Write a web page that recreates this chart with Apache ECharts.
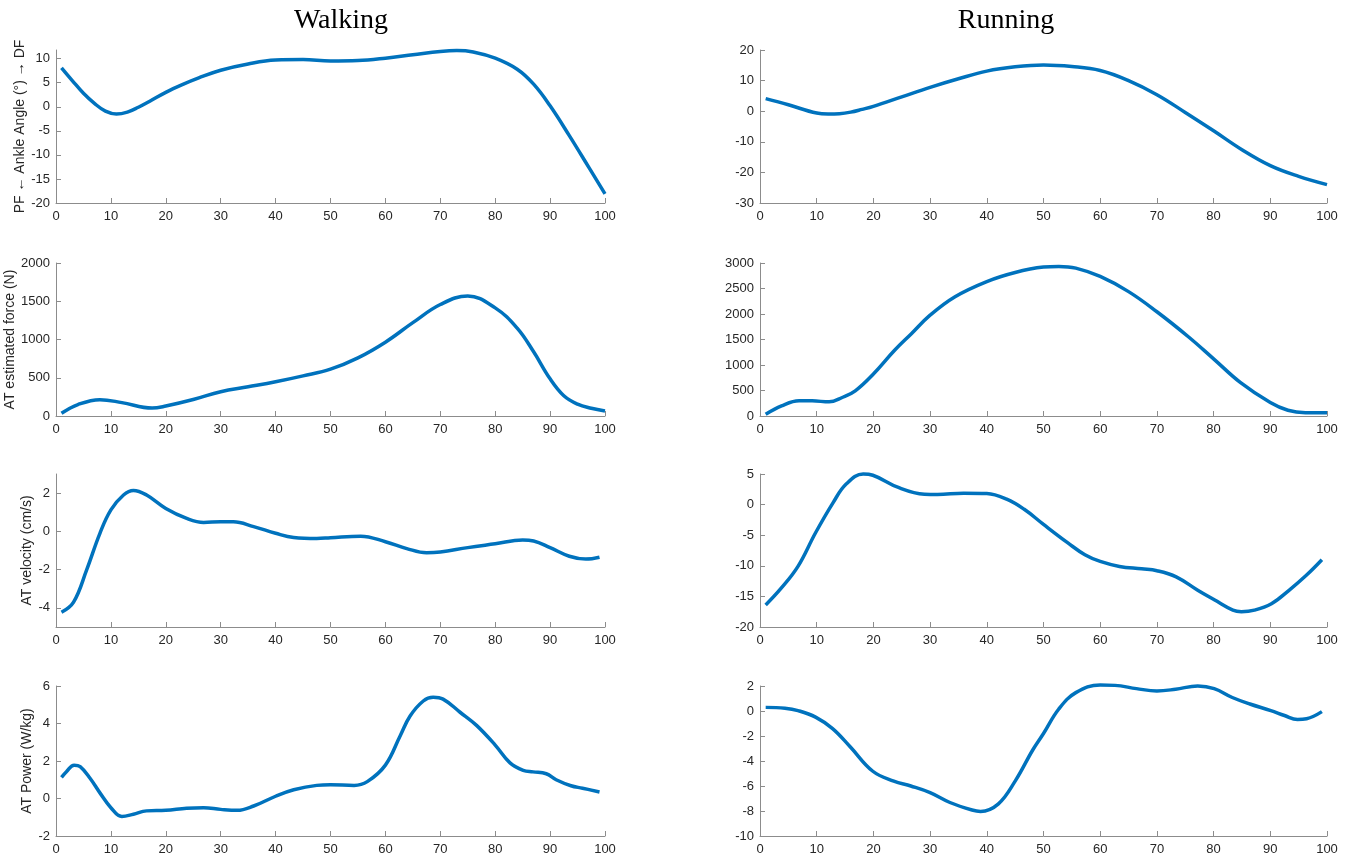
<!DOCTYPE html>
<html>
<head>
<meta charset="utf-8">
<title>Walking vs Running</title>
<script src="https://cdn.jsdelivr.net/npm/echarts@6/dist/echarts.min.js"></script>
<style>
  html, body { margin: 0; padding: 0; background: #fff; }
  #chart { width: 1348px; height: 856px; }
</style>
</head>
<body>
<div id="chart"></div>
<script>
// gait cycle (%) on x
const walkAngle = [[1,8.1],[3,5.4],[5,2.8],[7,0.7],[9,-0.9],[11,-1.5],[13,-1.1],[15,-0.1],[17,1.1],[20,3.0],[23,4.6],[26,6.0],[30,7.6],[35,8.9],[40,9.7],[45,9.8],[50,9.5],[55,9.6],[60,10.1],[65,10.8],[70,11.5],[73,11.7],[76,11.4],[80,10.1],[84,7.8],[87,4.7],[90,0.2],[93.5,-6],[97,-12.5],[100,-18.1]];
const runAngle = [[1,4.1],[5,2.1],[10,-0.6],[12,-0.9],[14,-0.8],[16,-0.3],[18,0.6],[20,1.6],[25,4.7],[30,7.8],[35,10.6],[40,13.1],[45,14.5],[50,15.1],[55,14.6],[60,13.3],[65,10.0],[70,5.4],[75,-0.4],[80,-6.4],[85,-12.6],[90,-17.8],[95,-21.3],[100,-24]];

const walkForce = [[1,35],[4,150],[8,214],[12,175],[17.5,103],[20,130],[25,215],[30,318],[35,382],[40,448],[45,525],[50,612],[55,760],[60,965],[65,1220],[70,1457],[75,1570],[80,1413],[84,1148],[87,839],[90,486],[92.5,265],[95,155],[97.5,101],[100,66]];
const runForce = [[1,33],[3.8,198],[6.9,297],[9.2,297],[12.2,277],[14.5,363],[16.8,494],[20,824],[23.7,1285],[26.7,1615],[30,1978],[34.4,2340],[40,2637],[45,2815],[50,2920],[52.7,2933],[55.7,2900],[60,2736],[65,2439],[70,2044],[75.6,1549],[80,1121],[84.7,659],[90,264],[93.1,112],[96.2,66],[100,66]];

const walkVel = [[1,-4.23],[3.2,-3.7],[5.6,-2.0],[8,-0.1],[10,1.12],[12.3,1.9],[14.1,2.14],[16.5,1.9],[20,1.2],[23.8,0.68],[26.9,0.47],[30,0.5],[32.3,0.5],[36,0.25],[40,-0.1],[43.3,-0.32],[47.5,-0.37],[50,-0.33],[55.5,-0.25],[60,-0.54],[63.9,-0.9],[67.5,-1.12],[70,-1.08],[75,-0.85],[80,-0.65],[85,-0.45],[87,-0.5],[90,-0.85],[93.5,-1.3],[96.5,-1.45],[99,-1.35]];
const runVel = [[1,-16.4],[3.7,-13.7],[6.7,-10.1],[9.8,-4.6],[12.9,0.33],[15.2,3.35],[18.2,5.0],[19.9,4.8],[24.4,2.8],[29,1.7],[31.3,1.65],[35.9,1.87],[40,1.8],[43.5,0.88],[46.6,-0.77],[50,-3.24],[54.3,-6.26],[57.3,-8.19],[60,-9.29],[63.4,-10.1],[67.3,-10.5],[70,-10.8],[73.4,-11.8],[77.2,-14],[80.2,-15.6],[83.4,-17.25],[84.9,-17.5],[87.2,-17.25],[90.2,-16.2],[93.3,-14],[96.4,-11.5],[99.1,-9.0]];

const walkPow = [[1,1.13],[1.9,1.43],[3.3,1.78],[4.4,1.7],[6.2,1.08],[8,0.3],[10,-0.49],[12,-0.96],[14.1,-0.84],[16.5,-0.66],[20,-0.63],[23.8,-0.52],[26.9,-0.49],[30,-0.58],[33,-0.63],[36,-0.4],[40,0.12],[43.3,0.47],[47.5,0.7],[50,0.73],[54.3,0.7],[56.7,0.9],[60,1.78],[62.7,3.35],[64.5,4.4],[66.9,5.2],[68.7,5.4],[70.5,5.3],[73.6,4.6],[76.6,3.9],[80,2.85],[82.7,1.9],[85.1,1.5],[86.9,1.42],[89.3,1.32],[91.1,1.0],[93.8,0.68],[95.9,0.55],[99,0.35]];
const runPow = [[1,0.29],[4.4,0.22],[6.7,0.03],[9.8,-0.49],[12.8,-1.41],[15.9,-2.86],[19.9,-4.82],[23.6,-5.61],[26.6,-6.0],[30,-6.53],[33.5,-7.32],[37.4,-7.92],[38.9,-8.03],[42,-7.45],[45,-5.61],[48.1,-3.12],[50,-1.8],[52.7,0.16],[55.7,1.47],[60,2.08],[62.6,2.05],[66.4,1.79],[70,1.6],[73.3,1.74],[77.2,2.0],[80.1,1.79],[83.3,1.08],[86.4,0.56],[90.1,0.03],[92.5,-0.36],[94.8,-0.68],[96.4,-0.62],[99.1,-0.05]];

const columnTitles = ['Walking', 'Running'];
const yNames = ['PF \u2190 Ankle Angle (\u00b0) \u2192 DF', 'AT estimated force (N)', 'AT velocity (cm/s)', 'AT Power (W/kg)'];

// one entry per panel: [data, ymin, ymax, yticks]
const panels = [
  [walkAngle, -20, 11.8, [-20, -15, -10, -5, 0, 5, 10]],
  [runAngle, -30, 20, [-30, -20, -10, 0, 10, 20]],
  [walkForce, 0, 2000, [0, 500, 1000, 1500, 2000]],
  [runForce, 0, 3000, [0, 500, 1000, 1500, 2000, 2500, 3000]],
  [walkVel, -5, 3, [-4, -2, 0, 2]],
  [runVel, -20, 5, [-20, -15, -10, -5, 0, 5]],
  [walkPow, -2, 6, [-2, 0, 2, 4, 6]],
  [runPow, -10, 2, [-10, -8, -6, -4, -2, 0, 2]]
];

const rowTop = [50, 263, 474, 686];
const rowH = 153;
const colLeft = [56, 760];
const colW = [549, 567];
const nameGaps = [26, 34, 18, 18];

const axisGray = '#8c8c8c';
const textGray = '#262626';
const font = 'Liberation Sans, Arial, Helvetica, sans-serif';

const grid = [], xAxis = [], yAxis = [], series = [];
panels.forEach((p, i) => {
  const row = Math.floor(i / 2), col = i % 2;
  grid.push({ left: colLeft[col], top: rowTop[row], width: colW[col], height: rowH });
  xAxis.push({
    type: 'value', gridIndex: i, min: 0, max: 100, interval: 10,
    axisLine: { onZero: false, lineStyle: { color: axisGray, width: 1 } },
    axisTick: { inside: true, length: 5, lineStyle: { color: axisGray } },
    axisLabel: { color: textGray, fontSize: 13, fontFamily: font, margin: 7 },
    splitLine: { show: false }
  });
  yAxis.push({
    type: 'value', gridIndex: i, min: p[1], max: p[2],
    name: col === 0 ? yNames[row] : '',
    nameLocation: 'middle', nameGap: nameGaps[row], nameRotate: 90,
    nameTextStyle: { color: textGray, fontSize: 14, fontFamily: font },
    axisLine: { show: true, onZero: false, lineStyle: { color: axisGray, width: 1 } },
    axisTick: { show: true, inside: true, length: 5, customValues: p[3], lineStyle: { color: axisGray } },
    axisLabel: { color: textGray, fontSize: 13, fontFamily: font, margin: 6, customValues: p[3],
      formatter: v => String(v) },
    splitLine: { show: false }
  });
  series.push({
    type: 'line', xAxisIndex: i, yAxisIndex: i, data: p[0],
    smooth: 0.4, showSymbol: false, symbol: 'none',
    lineStyle: { color: '#0072BD', width: 3.5 },
    clip: false, animation: false
  });
});

const chart = echarts.init(document.getElementById('chart'), null, { renderer: 'canvas' });
chart.setOption({
  backgroundColor: '#fff',
  animation: false,
  title: [
    { text: columnTitles[0], left: 341, top: 7, textAlign: 'center', padding: 0,
      textStyle: { fontFamily: 'Liberation Serif, serif', fontSize: 28, fontWeight: 'normal', color: '#000' } },
    { text: columnTitles[1], left: 1006, top: 7, textAlign: 'center', padding: 0,
      textStyle: { fontFamily: 'Liberation Serif, serif', fontSize: 28, fontWeight: 'normal', color: '#000' } }
  ],
  grid: grid,
  xAxis: xAxis,
  yAxis: yAxis,
  series: series
});
</script>
</body>
</html>
